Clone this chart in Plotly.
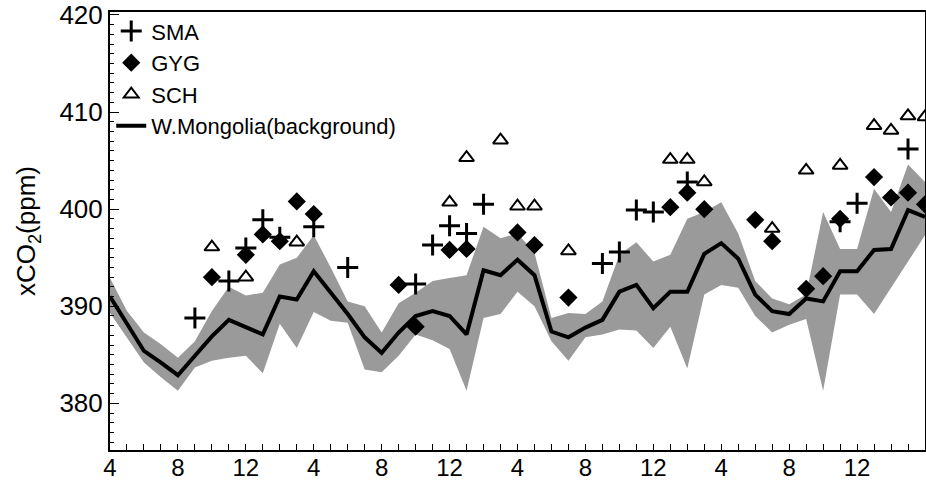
import plotly.graph_objects as go

# Month index 0 = April of first year; x ticks every 4 months labelled by calendar month
months = list(range(49))
tick_vals = list(range(0, 48, 4))
tick_labels = ["4", "8", "12", "4", "8", "12", "4", "8", "12", "4", "8", "12"]
y_ticks = [380, 390, 400, 410, 420]

# W.Mongolia background (line) and its range (gray band)
bg_mean = [391.0, 388.2, 385.4, 384.2, 382.9, 384.9, 386.9, 388.6, 387.9, 387.1,
           391.0, 390.7, 393.6, 391.4, 389.2, 386.8, 385.2, 387.3, 389.0, 389.5,
           389.0, 387.1, 393.7, 393.2, 394.8, 393.2, 387.4, 386.8, 387.8, 388.6,
           391.5, 392.2, 389.8, 391.5, 391.5, 395.4, 396.5, 394.9, 391.2, 389.5,
           389.2, 390.8, 390.5, 393.6, 393.6, 395.8, 395.9, 399.9, 399.2]
bg_upper = [392.9, 389.5, 387.3, 386.1, 384.7, 386.4, 389.5, 392.0, 391.1, 391.4,
            394.3, 395.0, 397.3, 394.0, 390.5, 390.0, 387.3, 390.3, 391.4, 392.6,
            392.9, 393.2, 398.2, 397.0, 397.5, 395.5, 388.8, 389.3, 389.2, 390.5,
            395.3, 396.6, 394.6, 395.3, 399.0, 399.7, 400.7, 397.5, 392.6, 390.8,
            390.2, 391.2, 399.7, 395.9, 395.9, 402.1, 399.7, 404.6, 402.8]
bg_lower = [389.3, 386.8, 384.2, 382.7, 381.3, 383.7, 384.4, 384.7, 384.9, 383.1,
            388.2, 385.7, 389.4, 388.5, 388.3, 383.5, 383.2, 384.9, 387.1, 386.5,
            385.6, 381.3, 388.8, 389.2, 391.5, 390.0, 386.4, 384.4, 386.8, 387.1,
            387.6, 387.5, 385.7, 387.9, 383.6, 391.2, 392.2, 391.9, 389.0, 387.3,
            388.1, 388.7, 381.3, 391.2, 391.2, 389.2, 391.9, 394.6, 397.3]

# Station observations
sma_t = [5, 7, 8, 9, 10, 12, 14, 18, 19, 20, 21, 22, 29, 30, 31, 32, 34, 43, 44, 47]
sma_v = [388.8, 392.6, 396.0, 398.9, 397.1, 398.2, 394.0, 392.3, 396.3, 398.3,
         397.5, 400.5, 394.4, 395.6, 399.9, 399.7, 402.8, 398.7, 400.6, 406.2]

gyg_t = [6, 8, 9, 10, 11, 12, 17, 18, 20, 21, 24, 25, 27, 33, 34, 35, 38, 39,
         41, 42, 43, 45, 46, 47, 48]
gyg_v = [393.0, 395.3, 397.4, 396.7, 400.8, 399.5, 392.2, 387.9, 395.8, 395.9,
         397.6, 396.3, 390.9, 400.2, 401.7, 400.0, 398.9, 396.7, 391.8, 393.1,
         399.0, 403.3, 401.2, 401.7, 400.5]

sch_t = [6, 8, 11, 20, 21, 23, 24, 25, 27, 33, 34, 35, 39, 41, 43, 45, 46, 47, 48]
sch_v = [396.1, 393.0, 396.6, 400.7, 405.3, 407.1, 400.3, 400.3, 395.7, 405.1,
         405.1, 402.8, 398.0, 404.0, 404.5, 408.6, 408.1, 409.6, 409.5]

fig = go.Figure()

# gray range band
fig.add_trace(go.Scatter(
    x=months + months[::-1], y=bg_upper + bg_lower[::-1],
    fill="toself", fillcolor="#9a9a9a", line=dict(width=0),
    mode="lines", showlegend=False, hoverinfo="skip"))

fig.add_trace(go.Scatter(
    x=sma_t, y=sma_v, mode="markers", name="SMA",
    marker=dict(symbol="cross-thin", size=15, color="black",
                line=dict(width=3, color="black"))))
fig.add_trace(go.Scatter(
    x=gyg_t, y=gyg_v, mode="markers", name="GYG",
    marker=dict(symbol="diamond", size=14, color="black",
                line=dict(width=0, color="black"))))
fig.add_trace(go.Scatter(
    x=sch_t, y=sch_v, mode="markers", name="SCH",
    marker=dict(symbol="triangle-up-open", size=13, color="black",
                line=dict(width=2, color="black"))))
fig.add_trace(go.Scatter(
    x=months, y=bg_mean, mode="lines", name="W.Mongolia(background)",
    line=dict(color="black", width=4)))

fig.update_layout(
    width=926, height=481,
    margin=dict(l=110, r=1, t=12, b=31, autoexpand=False),
    paper_bgcolor="white", plot_bgcolor="white",
    font=dict(family="Arial, Liberation Sans, sans-serif", color="black"),
    showlegend=True,
    legend=dict(x=0.0015, y=1.004, xanchor="left", yanchor="top",
                bgcolor="rgba(255,255,255,0)", font=dict(size=22),
                tracegroupgap=0, itemwidth=30),
    xaxis2=dict(overlaying="x", side="bottom", range=[0, 48], tick0=0, dtick=0.5,
                ticks="inside", ticklen=3, tickwidth=1, tickcolor="black",
                showticklabels=False, showline=False, showgrid=False,
                zeroline=False, automargin=False),
)

fig.update_layout(xaxis=dict(
    range=[0, 48], tickmode="array", tickvals=tick_vals, ticktext=tick_labels,
    ticks="inside", ticklen=6, tickwidth=1.3, tickcolor="black",
    showline=True, linecolor="black", linewidth=2, mirror=True,
    showgrid=False, zeroline=False, tickfont=dict(size=24), automargin=False,
    ticklabeloverflow="allow", ticklabelstandoff=-5,
    minor=dict(tick0=0, dtick=1, ticks="inside", ticklen=6,
               tickcolor="black", tickwidth=1.3)))
fig.update_layout(yaxis=dict(
    range=[375.2, 420.3], tickmode="array", tickvals=y_ticks,
    ticks="inside", ticklen=9, tickwidth=1.3, tickcolor="black",
    showline=True, linecolor="black", linewidth=2, mirror=True,
    showgrid=False, zeroline=False, tickfont=dict(size=26), automargin=False,
    ticklabeloverflow="allow",
    title=dict(text="xCO<sub>2</sub>(ppm)", font=dict(size=26), standoff=16),
    minor=dict(dtick=1, ticks="inside", ticklen=4, tickcolor="black", tickwidth=1)))

# remove the browser's default 8px body margin so the figure fills the window
fig.write_html("out.html", config={"displayModeBar": False},
               post_script="document.body.style.margin='0';")
